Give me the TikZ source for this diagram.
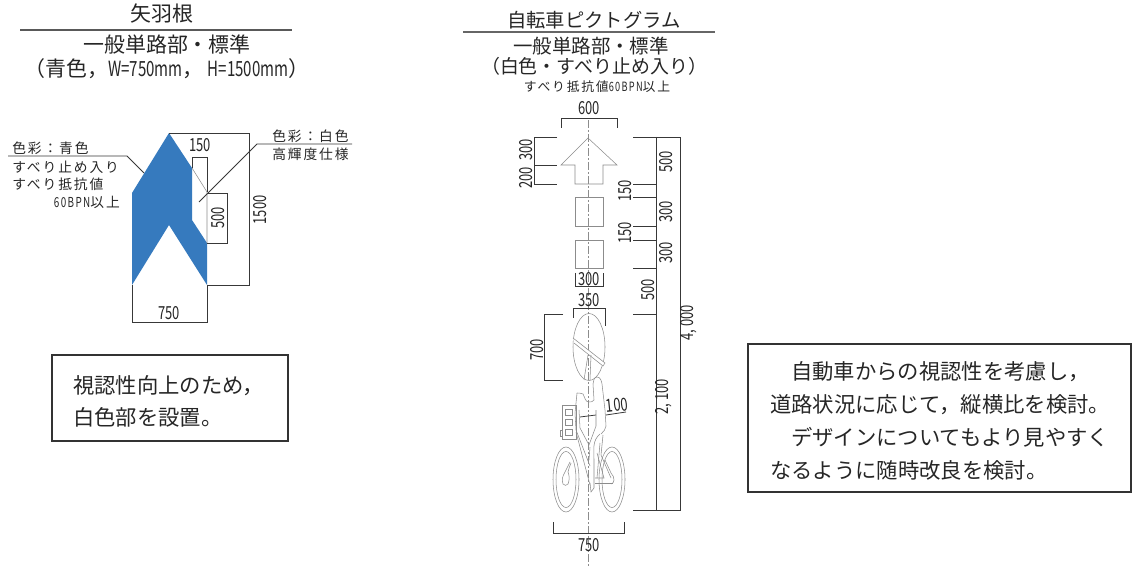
\documentclass[tikz,border=0pt]{standalone}
\usepackage{graphicx}
\usepackage{fontspec}
\setmainfont{Noto Sans CJK JP}
\newfontfamily\lsfont[LetterSpace=14]{Noto Sans CJK JP}
\newcommand{\nar}[1]{\scalebox{0.72}[1]{#1}}
\definecolor{arrowblue}{RGB}{54,122,190}
\definecolor{dimline}{gray}{0.22}
\definecolor{pictline}{gray}{0.55}
\tikzset{
 x=0.75pt,y=-0.75pt,
 txt/.style={inner sep=0pt,text=black!85},
 ttl/.style={txt,font=\fontsize{15.7}{16}\selectfont},
 bodytxt/.style={txt,anchor=west,font=\fontsize{16}{16}\selectfont},
 lab/.style={txt,anchor=west,font=\lsfont\fontsize{10.3}{11}\selectfont},
 dimtxt/.style={txt,font=\fontsize{13.5}{14}\selectfont},
 dimln/.style={draw=dimline,line width=0.6pt},
 pict/.style={draw=pictline,line width=0.4pt},
 boxln/.style={draw=black!80,line width=1pt},
 axisln/.style={draw=pictline,line width=0.4pt,dash pattern=on 6pt off 1.5pt on 1.5pt off 1.5pt},
}
\begin{document}
\begin{tikzpicture}
\useasboundingbox[fill=white] (0,0) rectangle (1134,566);
% ---------- left titles
\node[ttl] (t1) at (162,14) {矢羽根};
\draw[draw=black!65,line width=0.8pt] (20,30) -- (292,30);
\node[ttl] (t2) at (167,45) {一般単路部・標準};
\node[ttl] (t3) at (167,69) {（青色，\nar{W=750mm}，\hspace{3pt}\nar{H=1500mm}）};
% ---------- chevron
\fill[arrowblue] (169,133) -- (132,193) -- (132,285) -- (169,225) -- (207,285) -- (207,243) -- (192,220) -- (192,168) -- cycle;
\draw[pict] (192,168) -- (207,192) -- (207,243);
\draw[dimln] (192,168) -- (192,157) -- (207,157) -- (207,192);
\draw[dimln] (207,193) -- (227,193) -- (227,243) -- (207,243);
\draw[dimln] (169,133) -- (249,133) -- (249,285) -- (207,285);
\draw[dimln] (132,285) -- (132,322) -- (207,322) -- (207,285);
\draw[dimln] (8,156) -- (127,156) -- (144,173);
\draw[dimln] (352,144) -- (257,144) -- (199,202);
\node[dimtxt] (d150) at (200,145) {\nar{150}};
\node[dimtxt,rotate=90] (d500) at (218,218) {\nar{500}};
\node[dimtxt,rotate=90] (d1500) at (260,210) {\nar{1500}};
\node[dimtxt] (d750) at (169,313) {\nar{750}};
\node[lab] (l1) at (12,148) {色彩：青色};
\node[lab] (l2) at (12,167) {すべり止め入り};
\node[lab] (l3) at (12,184) {すべり抵抗値};
\node[lab,anchor=east] (l4) at (120,202) {\nar{60BPN}以上};
\node[lab] (r1) at (272,136) {色彩：白色};
\node[lab] (r2) at (272,154) {高輝度仕様};
% ---------- left box
\draw[boxln] (52,355) rectangle (288,441);
\node[bodytxt] (b1) at (73,386) {視認性向上のため，};
\node[bodytxt] (b2) at (73,417) {白色部を設置。};
% ---------- right titles
\node[ttl,font=\fontsize{14.5}{15}\selectfont] (p1) at (594,20) {自転車ピクトグラム};
\draw[draw=black!60,line width=1pt] (463,32) -- (715,32);
\node[ttl,font=\fontsize{14.6}{15}\selectfont] (p2) at (591,46) {一般単路部・標準};
\node[ttl,font=\fontsize{14.2}{15}\selectfont] (p3) at (594,66) {（白色・すべり止め入り）};
\node[txt,font=\lsfont\fontsize{9.6}{10}\selectfont] (p4) at (597,87) {すべり抵抗値\nar{60BPN}以上};
% ---------- centre line
\draw[axisln] (588,120) -- (588,566);
% ---------- arrow + squares
\draw[pict] (588,138) -- (561,165) -- (575,165) -- (575,184) -- (603,184) -- (603,165) -- (617,165) -- cycle;
\draw[pict] (575,197) rectangle (603,226);
\draw[pict] (575,240) rectangle (603,268);
% ---------- dims top
\draw[dimln] (561,128) -- (561,118) -- (617,118) -- (617,128);
\node[dimtxt] (d600) at (589,108) {\nar{600}};
\draw[dimln] (557,137) -- (534,137) -- (534,184) -- (557,184);
\draw[dimln] (534,165) -- (557,165);
\node[dimtxt,rotate=90] (d300a) at (526,150) {\nar{300}};
\node[dimtxt,rotate=90] (d200) at (526,178) {\nar{200}};
% ---------- right dims
\draw[dimln] (633,137) -- (680,137) -- (680,510) -- (633,510);
\draw[dimln] (656,137) -- (656,510);
\foreach \yy in {184,197,226,240,268,314} \draw[dimln] (633,\yy) -- (656,\yy);
\node[dimtxt,rotate=90] (v500a) at (666,162) {\nar{500}};
\node[dimtxt,rotate=90] (v300a) at (666,212) {\nar{300}};
\node[dimtxt,rotate=90] (v300b) at (666,253) {\nar{300}};
\node[dimtxt,rotate=90] (v150a) at (625,191) {\nar{150}};
\node[dimtxt,rotate=90] (v150b) at (625,233) {\nar{150}};
\node[dimtxt,rotate=90] (v500b) at (648,290) {\nar{500}};
\node[dimtxt,rotate=90] (v2100) at (664,397) {\nar{2, 100}};
\node[dimtxt,rotate=90] (v4000) at (689,323) {\nar{4, 000}};
% ---------- 300 / 350 / 700 / 750
\draw[dimln] (575,273) -- (575,286) -- (603,286) -- (603,273);
\node[dimtxt] (h300) at (589,279) {\nar{300}};
\node[dimtxt] (h350) at (589,300) {\nar{350}};
\draw[dimln] (573,318) -- (573,308) -- (605,308) -- (605,326);
\draw[dimln] (563,314) -- (544,314) -- (544,380) -- (563,380);
\node[dimtxt,rotate=90] (d700) at (537,350) {\nar{700}};
\draw[dimln] (553,522) -- (553,533) -- (624,533) -- (624,522);
\node[dimtxt] (h750) at (589,545) {\nar{750}};
\draw[dimln] (580,417) -- (596,415);
\draw[dimln] (606,415) -- (626,412);
\node[dimtxt,rotate=6] (d100) at (617,405) {\nar{100}};
% ---------- helmet / head
\draw[pict] (589,347) ellipse (16 and 33.5);
\fill[white] (573,338) -- (605,363) -- (603,366) -- (574,343) -- cycle;
\draw[pict] (573,338) -- (605,363) -- (603,366) -- (574,343);
\draw[pict] (588,355) -- (584,380);
\draw[pict] (591,355) -- (590,380);
% ---------- rider
\draw[pict] (577,393) to[out=10,in=170] (583,394) to[out=-60,in=180] (589,402) to[out=0,in=-120] (594,400) -- (593,384) to[out=80,in=180] (597,377) to[out=0,in=100] (602,384) -- (605,410) -- (606,426) to[out=-90,in=50] (601,434);
\draw[pict] (577,393) -- (575,413) -- (576,430) -- (590,466);
\draw[pict] (579,410) -- (580,428) -- (589,445) -- (596,426) -- (596,410);
\draw[pict] (600,434) to[out=-140,in=90] (594,460) -- (594,488) -- (591,492) -- (590,483);
\draw[pict] (603,435) -- (601,455) -- (611,478);
\draw[pict] (576,432) -- (590,485);
\draw[pict] (597,453) -- (604,478) -- (595,478);
\draw[pict] (595,483) -- (613,483);
\draw[pict] (590,447) -- (589,460);
\draw[pict] (600,443) -- (597,478);
% ---------- basket
\draw[pict] (562,405) rectangle (576,439);
\draw[pict] (560,430) rectangle (562,436);
\draw[pict] (565,409) rectangle (572,415);
\draw[pict] (565,419) rectangle (572,425);
\draw[pict] (565,429) rectangle (572,435);
% ---------- wheels
\draw[pict] (566,479.5) ellipse (13 and 32.5);
\draw[pict] (566,479.5) ellipse (10 and 28);
\draw[pict] (612,479.5) ellipse (13 and 32.5);
\draw[pict] (612,479.5) ellipse (10 and 28);
\draw[pict] (571,463) to[out=-110,in=80] (568,472) to[out=-70,in=70] (568,484) to[out=-110,in=-70] (563,484) to[out=110,in=-120] (565,472) -- (570,462);
\draw[pict] (605,460) -- (611,473) to[out=-60,in=80] (614,480) to[out=-100,in=0] (611,484);
% ---------- right box
\draw[boxln] (748,344) rectangle (1131,492);
\node[bodytxt] (c1) at (791,372) {自動車からの視認性を考慮し，};
\node[bodytxt] (c2) at (770,405) {道路状況に応じて，縦横比を検討。};
\node[bodytxt] (c3) at (791,437) {デザインについてもより見やすく};
\node[bodytxt] (c4) at (770,470) {なるように随時改良を検討。};
\end{tikzpicture}
\end{document}
